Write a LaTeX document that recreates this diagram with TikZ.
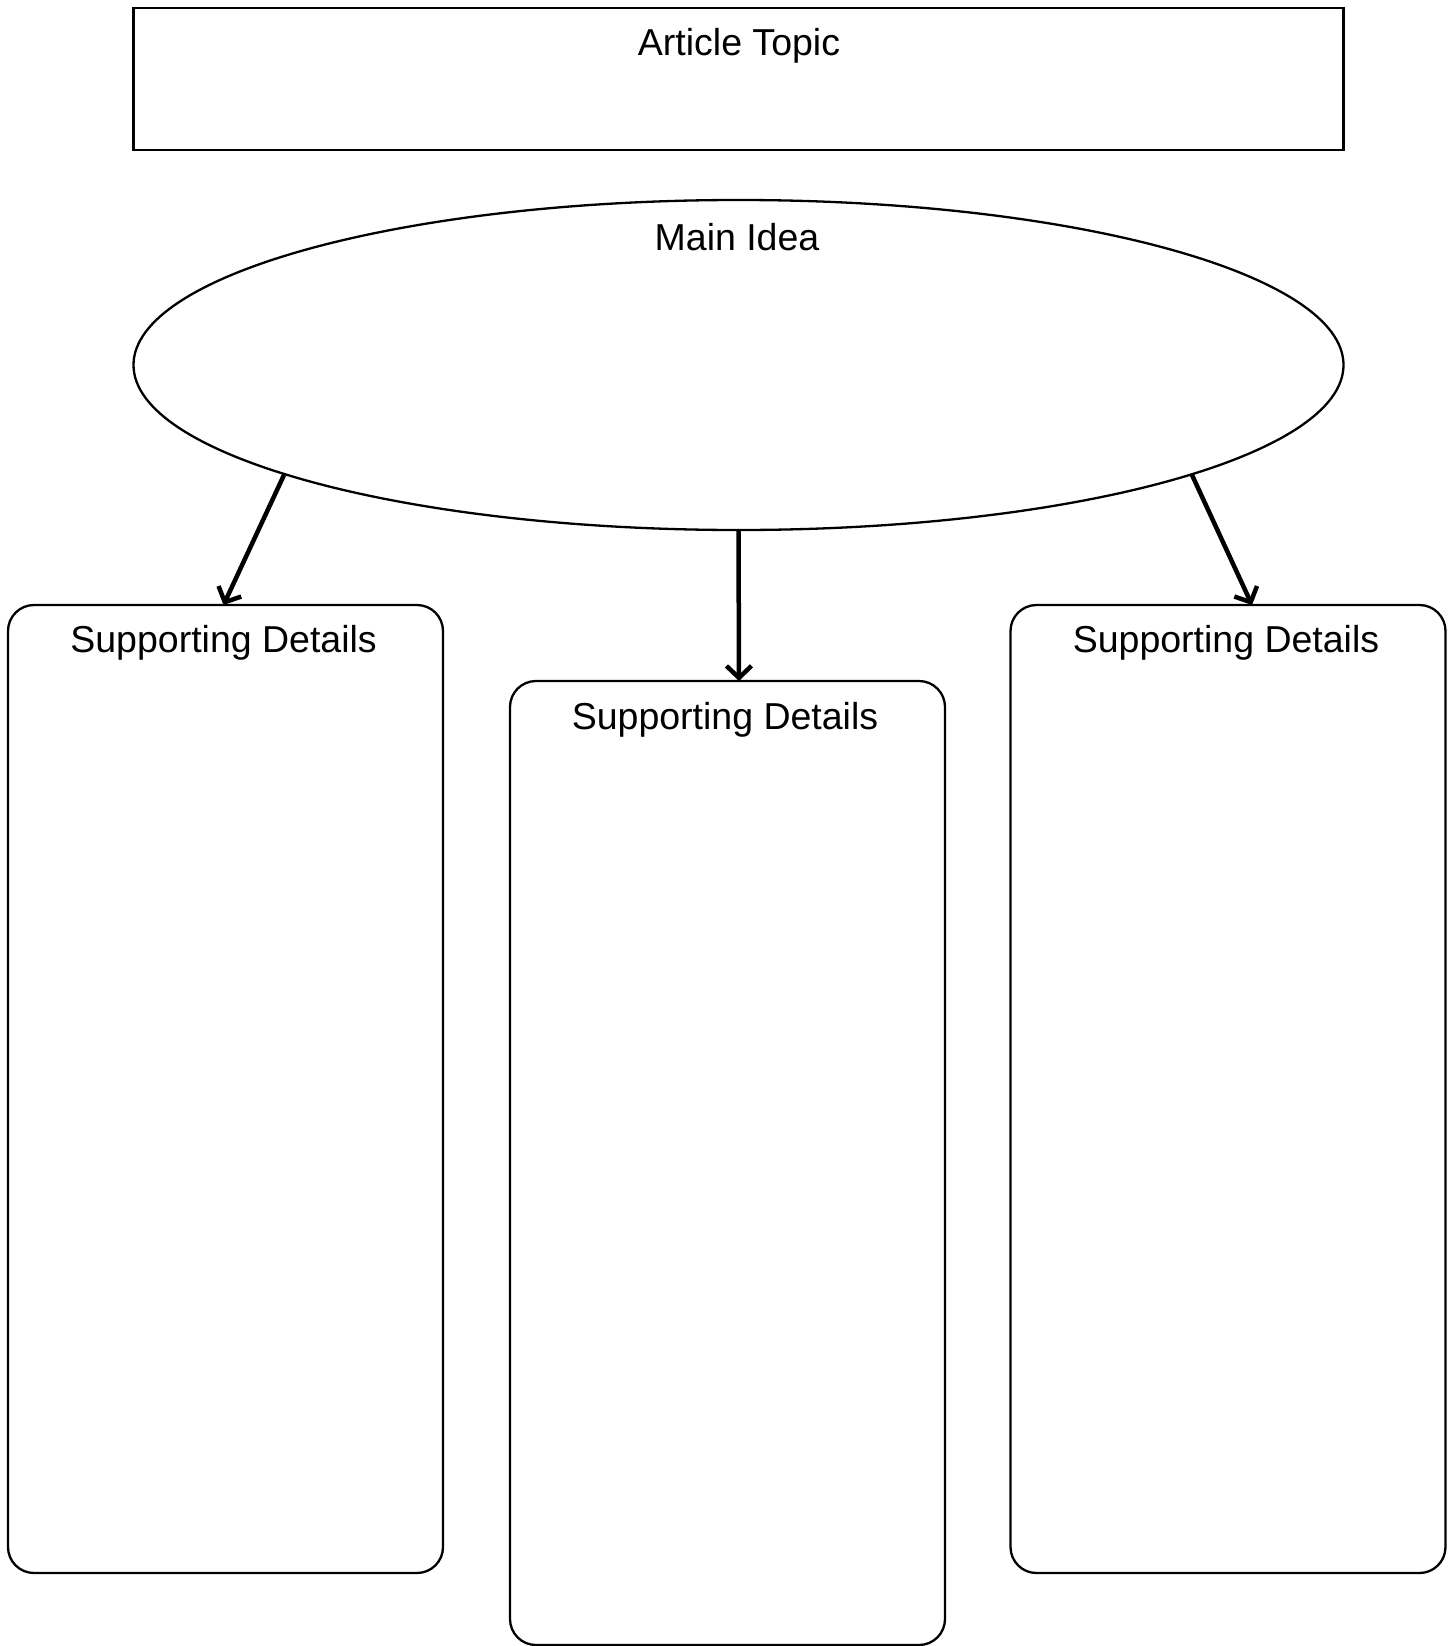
\documentclass[tikz,border=0pt]{standalone}
\usepackage{fontspec}
\setmainfont{Liberation Sans}
\usetikzlibrary{arrows.meta,shapes.geometric,calc}
\begin{document}
\begin{tikzpicture}[x=1pt,y=-1pt,
  frame/.style={draw=black,line width=2.3pt,fill=white,inner sep=0pt,outer sep=0pt},
  card/.style={frame,rounded corners=26pt,minimum width=435pt},
  lbl/.style={anchor=base,inner sep=0pt,font=\fontsize{37.5}{45}\selectfont},
  arr/.style={line width=4.5pt,-{Straight Barb[length=12pt,width=25pt]}}]
\useasboundingbox (0,0) rectangle (1453,1646);
% topic banner
\node[frame,minimum width=1210pt,minimum height=141.7pt] (topic) at (738.5,79.2) {};
\node[lbl] (topictxt) at (739,56) {Article Topic};
% central idea
\node[frame,ellipse,minimum width=1210pt,minimum height=330pt] (main) at (738.5,365) {};
\node[lbl] (maintxt) at (737,250.5) {Main Idea};
% detail cards
\node[card,minimum height=968pt] (lbox) at (225.5,1089) {};
\node[card,minimum height=964pt] (mbox) at (727.5,1163) {};
\node[card,minimum height=968pt] (rbox) at (1228,1089) {};
\node[lbl] (ltxt) at (223.6,652.5) {Supporting Details};
\node[lbl] (mtxt) at (725,729) {Supporting Details};
\node[lbl] (rtxt) at (1226,652.5) {Supporting Details};
% connectors
\draw[arr] ($(main.center)+(-454.5,110)$) -- ([xshift=-2pt]lbox.north);
\draw[arr] (main.south) -- ([xshift=11.5pt]mbox.north);
\draw[arr] ($(main.center)+(453.5,110)$) -- ([xshift=24pt]rbox.north);
\end{tikzpicture}
\end{document}
